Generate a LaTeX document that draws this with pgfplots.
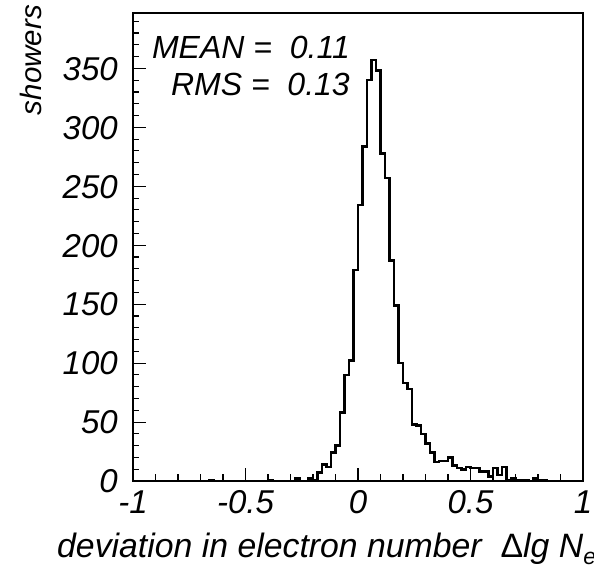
\documentclass[border=0pt]{standalone}
\usepackage{pgfplots}
\pgfplotsset{compat=1.18}
\usepackage{fontspec}
\setmainfont{Liberation Sans}
\newcommand\lf{\fontsize{33bp}{38bp}\selectfont\itshape}
\newcommand\mf{\fontsize{32bp}{38bp}\selectfont\itshape}
\newcommand\xf{\fontsize{33.8bp}{38bp}\selectfont\itshape}
\newcommand\yf{\fontsize{29.5bp}{34bp}\selectfont\itshape}
\begin{document}
\begin{tikzpicture}
\begin{axis}[
  scale only axis, width=450bp, height=468bp,
  xmin=-1, xmax=1, ymin=0, ymax=397,
  axis line style={line width=1.2bp},
  xtick={-1,-0.5,0,0.5,1},
  xticklabels={-1,-0.5,0,0.5,1},
  minor xtick={-0.9,-0.8,-0.7,-0.6,-0.4,-0.3,-0.2,-0.1,0.1,0.2,0.3,0.4,0.6,0.7,0.8,0.9},
  ytick={0,50,100,150,200,250,300,350},
  yticklabels={0,50,100,150,200,250,300,350},
  minor ytick={10,20,30,40,60,70,80,90,110,120,130,140,160,170,180,190,210,220,230,240,260,270,280,290,310,320,330,340,360,370,380,390},
  xtick pos=bottom, ytick pos=left, tick align=inside,
  major tick length=12.7bp, minor tick length=6.5bp,
  every tick/.style={black, line width=1.1bp},
  xticklabel style={font=\lf, anchor=base, inner sep=0pt, yshift=-32bp},
  yticklabel style={font=\lf, anchor=base east, inner sep=0pt, xshift=-15bp, yshift=-11.8bp},
  xlabel={deviation in electron number\ \ \textup{Δ}lg N\raisebox{-7bp}{\fontsize{23bp}{24bp}\selectfont\itshape e}},
  xlabel style={font=\xf, at={(axis description cs:-0.1689,-0.1624)}, anchor=base west, inner sep=0pt},
  ylabel={showers},
  ylabel style={font=\yf, at={(axis description cs:-0.2044,1.0171)}, anchor=base east, inner sep=0pt},
  clip=false,
]
\addplot[const plot mark left, black, line width=2.6bp, line join=miter] coordinates {
(-1,0) (-0.66,1) (-0.64,0) (-0.40,1) (-0.38,0) (-0.28,2) (-0.26,0) (-0.22,2) (-0.20,1)
(-0.18,7) (-0.16,14) (-0.14,12) (-0.12,24) (-0.10,30) (-0.08,58) (-0.06,90) (-0.04,102)
(-0.02,179) (0,234) (0.02,284) (0.04,340) (0.06,357) (0.08,348) (0.10,278) (0.12,257)
(0.14,187) (0.16,149) (0.18,100) (0.20,83) (0.22,78) (0.24,48) (0.26,47) (0.28,40)
(0.30,32) (0.32,24) (0.34,16) (0.36,17) (0.38,17) (0.40,20) (0.42,13) (0.44,11)
(0.46,10) (0.48,12) (0.50,11) (0.52,11) (0.54,8) (0.56,8) (0.58,4) (0.60,11) (0.62,5)
(0.64,12) (0.66,1) (0.68,2) (0.70,1) (0.72,1) (0.74,1) (0.76,0) (0.78,2) (0.80,1)
(0.82,1) (0.84,0) (1,0)
};
\node[font=\mf, anchor=base east, inner sep=0pt] at (axis cs:-0.0356,358) {MEAN =\ \ 0.11};
\node[font=\mf, anchor=base east, inner sep=0pt] at (axis cs:-0.0356,326.6) {RMS =\ \ 0.13};
\end{axis}
\pgfresetboundingbox
\useasboundingbox (-133bp,-87bp) rectangle (461bp,481bp);
\end{tikzpicture}
\end{document}
